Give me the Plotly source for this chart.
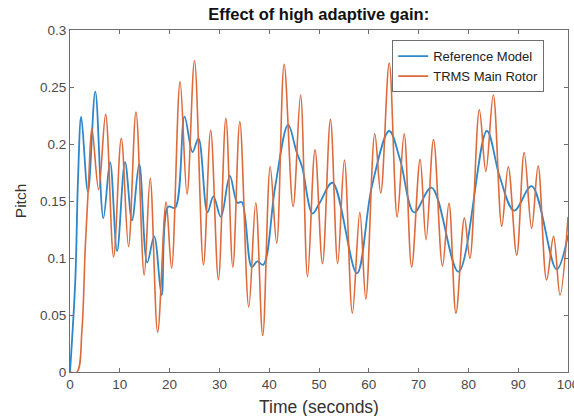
import plotly.graph_objects as go

# Reference model response (time in s, pitch)
ref_t = [0, 1.07, 1.6, 2.25, 3.6, 5.08, 6.7, 8.05, 9.45, 11.05, 12.45, 13.9, 15.5, 16.9,
         18.4, 19.7, 21.1, 23.0, 24.6, 25.8, 27.6, 28.8, 30.3, 32.1, 33.6, 34.5, 36.5,
         37.6, 38.8, 41.2, 43.8, 45.5, 46.6, 48.7, 50.2, 52.7, 57.6, 60.6, 64.1, 66.3,
         69.1, 72.6, 78.0, 83.7, 86.3, 89.2, 92.7, 97.7, 100]
ref_y = [0, 0.081, 0.168, 0.224, 0.158, 0.246, 0.135, 0.184, 0.106, 0.184, 0.133, 0.1825,
         0.096, 0.119, 0.0675, 0.145, 0.144, 0.224, 0.193, 0.205, 0.14, 0.154, 0.136, 0.172,
         0.1485, 0.149, 0.092, 0.097, 0.094, 0.1625, 0.2167, 0.193, 0.18, 0.139, 0.149,
         0.166, 0.0866, 0.1625, 0.2114, 0.186, 0.14, 0.1617, 0.088, 0.2114, 0.171, 0.1415,
         0.163, 0.09, 0.12]

# TRMS main rotor measured pitch
trms_t = [0, 1.4, 2.4, 3.07, 3.75, 4.4, 5.75, 7.15, 8.75, 10.3, 11.75, 13.25, 14.9, 16.1,
          17.6, 19.3, 20.4, 22.1, 23.5, 25.0, 26.8, 28.25, 29.8, 31.3, 32.7, 34.1, 35.9,
          37.3, 38.7, 40.2, 41.5, 43.0, 44.8, 46.3, 47.7, 49.2, 50.7, 52.3, 53.75, 55.1,
          56.7, 58.2, 59.4, 61.2, 62.4, 64.1, 65.7, 67.1, 68.6, 70.3, 71.5, 73.0, 74.8,
          76.1, 77.5, 79.2, 80.3, 82.2, 83.5, 85.0, 86.7, 88.0, 89.7, 91.2, 92.7, 94.0,
          95.7, 97.1, 98.4, 100]
trms_y = [0, 0, 0.037, 0.11, 0.168, 0.214, 0.16, 0.226, 0.101, 0.205, 0.11, 0.228, 0.085,
          0.17, 0.035, 0.149, 0.091, 0.2547, 0.156, 0.273, 0.094, 0.212, 0.081, 0.2225,
          0.092, 0.2196, 0.057, 0.1485, 0.032, 0.18, 0.113, 0.27, 0.145, 0.243, 0.0836,
          0.195, 0.095, 0.2216, 0.095, 0.186, 0.0515, 0.14, 0.064, 0.209, 0.157, 0.271,
          0.136, 0.209, 0.092, 0.1865, 0.116, 0.204, 0.093, 0.148, 0.0515, 0.135, 0.0997,
          0.23, 0.176, 0.243, 0.128, 0.18, 0.1026, 0.1925, 0.126, 0.1807, 0.0807, 0.119,
          0.0675, 0.136]

x_ticks = [0, 10, 20, 30, 40, 50, 60, 70, 80, 90, 100]
y_ticks = [0, 0.05, 0.1, 0.15, 0.2, 0.25, 0.3]
y_tick_text = ["0", "0.05", "0.1", "0.15", "0.2", "0.25", "0.3"]

BLUE = "#2f86c8"
ORANGE = "#dd6a3a"
FRAME = "#6e6e6e"
FONT = "Liberation Sans, Arial, sans-serif"

fig = go.Figure()
fig.add_trace(go.Scatter(x=ref_t, y=ref_y, mode="lines", name="Reference Model",
                         line=dict(color=BLUE, width=1.8, shape="spline", smoothing=1.0)))
fig.add_trace(go.Scatter(x=trms_t, y=trms_y, mode="lines", name="TRMS Main Rotor",
                         line=dict(color=ORANGE, width=1.6, shape="spline", smoothing=1.0)))

axis_common = dict(
    showline=True, linecolor=FRAME, linewidth=1, mirror="ticks",
    ticks="inside", ticklen=4, tickcolor=FRAME, showgrid=False, zeroline=False,
    automargin=False,
    tickfont=dict(family=FONT, size=13.5, color="#4a4a4a"),
)

fig.update_layout(
    width=574, height=416,
    margin=dict(l=70, r=6, t=30, b=44),
    paper_bgcolor="white", plot_bgcolor="white",
    font=dict(family=FONT, color="#333333"),
    title=dict(text="<b>Effect of high adaptive gain:</b>", x=0.5553, xanchor="center",
               y=0.966, yanchor="middle",
               font=dict(size=16.5, color="#111111")),
    xaxis=dict(range=[0, 100], tickvals=x_ticks, ticklabeloverflow="allow", **axis_common),
    yaxis=dict(range=[0, 0.3], tickvals=y_ticks, ticktext=y_tick_text, **axis_common),
    legend=dict(x=0.647, y=0.97, xanchor="left", yanchor="top",
                bgcolor="white", bordercolor=FRAME, borderwidth=1,
                font=dict(size=13, color="#222222"),
                tracegroupgap=0, itemwidth=30),
    showlegend=True,
)

# Axis titles
fig.add_annotation(text="Time (seconds)", xref="paper", yref="paper",
                   x=0.5, y=-0.102, xanchor="center", yanchor="middle", showarrow=False,
                   font=dict(family=FONT, size=17.5, color="#333333"))
fig.add_annotation(text="Pitch", xref="paper", yref="paper",
                   x=-0.1, y=0.5, xanchor="center", yanchor="middle", showarrow=False,
                   textangle=-90, font=dict(family=FONT, size=15.5, color="#333333"))

fig.write_html("out.html")
